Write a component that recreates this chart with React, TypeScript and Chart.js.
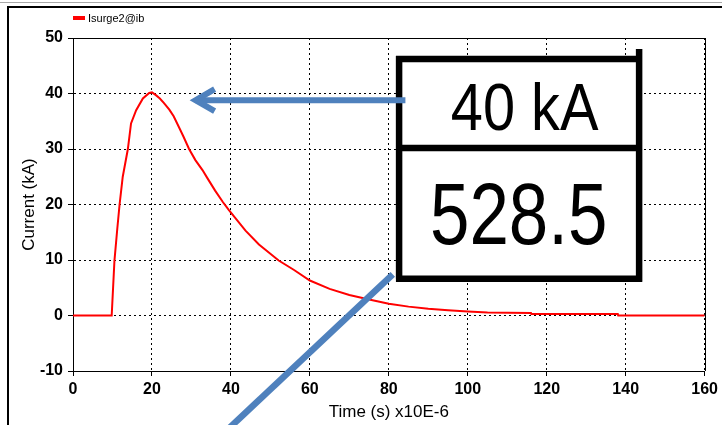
import React, { useEffect, useRef } from "react";
import { Chart, registerables } from "chart.js";

Chart.register(...registerables);

// ---- data ----
const timeUs = [0, 9.8, 10.5, 11.2, 11.8, 12.6, 13.9, 14.7, 16, 17.7, 19.3, 20, 21, 22, 23, 24.4, 25.5, 27, 28, 29.4, 31, 32.8, 34, 36, 38, 39.5, 43.7, 47.1, 52.1, 56, 60, 65, 70, 75, 80, 85, 90, 95, 100, 105, 110, 116, 116.1, 138, 138.1, 160];
const currentKA = [0, 0, 9.9, 15.5, 20, 25, 30, 34.6, 37, 39.1, 40.1, 40.2, 39.7, 39.1, 38.3, 37.1, 35.9, 33.7, 32.2, 30.0, 28.0, 26.2, 24.8, 22.5, 20.4, 19.0, 15.3, 12.8, 9.9, 8.2, 6.3, 4.8, 3.7, 2.9, 2.1, 1.6, 1.2, 0.95, 0.72, 0.55, 0.48, 0.45, 0.25, 0.25, 0, 0];
const seriesName = "Isurge2@ib";
const xTitle = "Time (s) x10E-6";
const yTitle = "Current (kA)";
const xRange = [0, 160];
const yRange = [-10, 50];
const xStep = 20;
const yStep = 10;
const peakLabel = "40 kA";
const readingLabel = "528.5";

const FONT = '"Liberation Sans", Arial, sans-serif';
const ARROW_BLUE = "#4F81BD";

const overlayPlugin = {
  id: "overlay",
  beforeDatasetsDraw(chart: any) {
    const { ctx, chartArea } = chart;
    const l = Math.round(chartArea.left);
    const r = Math.round(chartArea.right);
    const t = Math.round(chartArea.top);
    const b = Math.round(chartArea.bottom);
    ctx.save();
    ctx.strokeStyle = "#000";
    ctx.lineWidth = 1;
    ctx.setLineDash([]);
    ctx.beginPath();
    ctx.moveTo(l, t + 0.5);
    ctx.lineTo(r + 1, t + 0.5);
    ctx.moveTo(r + 0.5, t);
    ctx.lineTo(r + 0.5, b);
    ctx.stroke();
    ctx.restore();
  },
  afterDraw(chart: any) {
    const { ctx, chartArea, scales } = chart;
    const xs = scales.x;
    const ys = scales.y;
    const X = (v: number) => xs.getPixelForValue(v);
    const Y = (v: number) => ys.getPixelForValue(v);
    const W = chart.width;
    const H = chart.height;
    ctx.save();
    ctx.setLineDash([]);

    // outer window frame
    ctx.strokeStyle = "#a8a8a8";
    ctx.lineWidth = 1;
    ctx.beginPath();
    ctx.moveTo(0, 2.5);
    ctx.lineTo(W, 2.5);
    ctx.stroke();
    ctx.strokeStyle = "#000";
    ctx.lineWidth = 2;
    ctx.beginPath();
    ctx.moveTo(W, 7);
    ctx.lineTo(8, 7);
    ctx.lineTo(8, H);
    ctx.stroke();

    // legend
    const lx = Math.round(chartArea.left);
    ctx.fillStyle = "#ff0000";
    ctx.fillRect(lx, 16, 12, 4);
    ctx.fillStyle = "#000";
    ctx.font = `11px ${FONT}`;
    ctx.textAlign = "left";
    ctx.textBaseline = "middle";
    ctx.fillText(seriesName, lx + 15, 18.5);

    // annotation box
    const bl = X(82.6), br = X(143.4);
    const bt = Y(46.2), bm = Y(30.2), bb = Y(6.6);
    ctx.fillStyle = "#fff";
    ctx.fillRect(bl, bt, br - bl, bb - bt);
    ctx.strokeStyle = "#000";
    ctx.lineWidth = 6.5;
    ctx.lineCap = "butt";
    ctx.beginPath();
    ctx.moveTo(X(81.8), bt);
    ctx.lineTo(br + 3, bt);
    ctx.moveTo(bl, bt - 3);
    ctx.lineTo(bl, bb);
    ctx.moveTo(br, Y(48.0));
    ctx.lineTo(br, bb + 3);
    ctx.moveTo(bl, bm);
    ctx.lineTo(br, bm);
    ctx.moveTo(X(81.8), bb);
    ctx.lineTo(br + 3, bb);
    ctx.stroke();

    const drawFitted = (text: string, size: number, cx: number, baseY: number, targetW: number) => {
      ctx.font = `${size}px ${FONT}`;
      const w = ctx.measureText(text).width;
      ctx.save();
      ctx.translate(cx, baseY);
      ctx.scale(targetW / w, 1);
      ctx.fillStyle = "#000";
      ctx.textAlign = "center";
      ctx.textBaseline = "alphabetic";
      ctx.fillText(text, 0, 0);
      ctx.restore();
    };
    drawFitted(peakLabel, 66, X(114.4), Y(33.5), X(114.4 + 18.7) - X(114.4 - 18.7));
    drawFitted(readingLabel, 87, X(112.9), Y(12.9), X(112.9 + 22.45) - X(112.9 - 22.45));

    // arrows
    ctx.strokeStyle = ARROW_BLUE;
    ctx.lineWidth = 6;
    ctx.lineCap = "butt";
    const ay = Y(38.8);
    const tip = X(30.3);
    ctx.beginPath();
    ctx.moveTo(X(84.2), ay);
    ctx.lineTo(tip + 3, ay);
    ctx.stroke();
    ctx.lineJoin = "miter";
    ctx.beginPath();
    ctx.moveTo(tip + 22, ay - 11);
    ctx.lineTo(tip + 3, ay);
    ctx.lineTo(tip + 22, ay + 11);
    ctx.stroke();

    ctx.lineWidth = 6.5;
    ctx.beginPath();
    ctx.moveTo(X(81.0), Y(7.4));
    ctx.lineTo(X(37.0), Y(-22));
    ctx.stroke();

    ctx.restore();
  },
};

export default function App() {
  const canvasRef = useRef<HTMLCanvasElement | null>(null);

  useEffect(() => {
    if (!canvasRef.current) return;
    const points = timeUs.map((t, i) => ({ x: t, y: currentKA[i] }));
    const gridCommon = {
      color: "#000",
      lineWidth: 1,
      drawTicks: true,
      tickLength: 5,
      tickColor: "#000",
      tickBorderDash: [1, 0],
      tickWidth: 1,
    };
    const borderCommon = { display: true, color: "#000", width: 1, dash: [2, 3] };
    const chart = new Chart(canvasRef.current, {
      type: "line",
      data: {
        datasets: [
          {
            label: seriesName,
            data: points,
            borderColor: "#ff0000",
            backgroundColor: "#ff0000",
            borderWidth: 2,
            pointRadius: 0,
            tension: 0,
            fill: false,
          },
        ],
      },
      options: {
        animation: false,
        responsive: false,
        maintainAspectRatio: false,
        layout: { padding: { top: 38, right: 14.5, bottom: 0, left: 0 } },
        plugins: {
          legend: { display: false },
          tooltip: { enabled: false },
        },
        scales: {
          x: {
            type: "linear",
            min: xRange[0],
            max: xRange[1],
            afterFit: (s: any) => {
              s.height = 54;
            },
            ticks: {
              stepSize: xStep,
              color: "#000",
              padding: 4,
              maxRotation: 0,
              font: { family: FONT, size: 16, weight: "bold" },
            },
            grid: gridCommon,
            border: borderCommon,
            title: {
              display: true,
              text: xTitle,
              color: "#000",
              font: { family: FONT, size: 17 },
              padding: { top: 0, bottom: 2 },
            },
          },
          y: {
            type: "linear",
            min: yRange[0],
            max: yRange[1],
            afterFit: (s: any) => {
              s.width = 73;
            },
            ticks: {
              stepSize: yStep,
              color: "#000",
              padding: 5,
              font: { family: FONT, size: 16, weight: "bold" },
            },
            grid: gridCommon,
            border: borderCommon,
            title: {
              display: true,
              text: yTitle,
              color: "#000",
              font: { family: FONT, size: 17 },
              padding: { top: 19, bottom: 0 },
            },
          },
        },
      },
      plugins: [overlayPlugin],
    } as any);
    return () => chart.destroy();
  }, []);

  return (
    <div style={{ position: "fixed", left: 0, top: 0, width: 722, height: 425, background: "#fff" }}>
      <canvas ref={canvasRef} width={722} height={425} style={{ display: "block" }} />
    </div>
  );
}
